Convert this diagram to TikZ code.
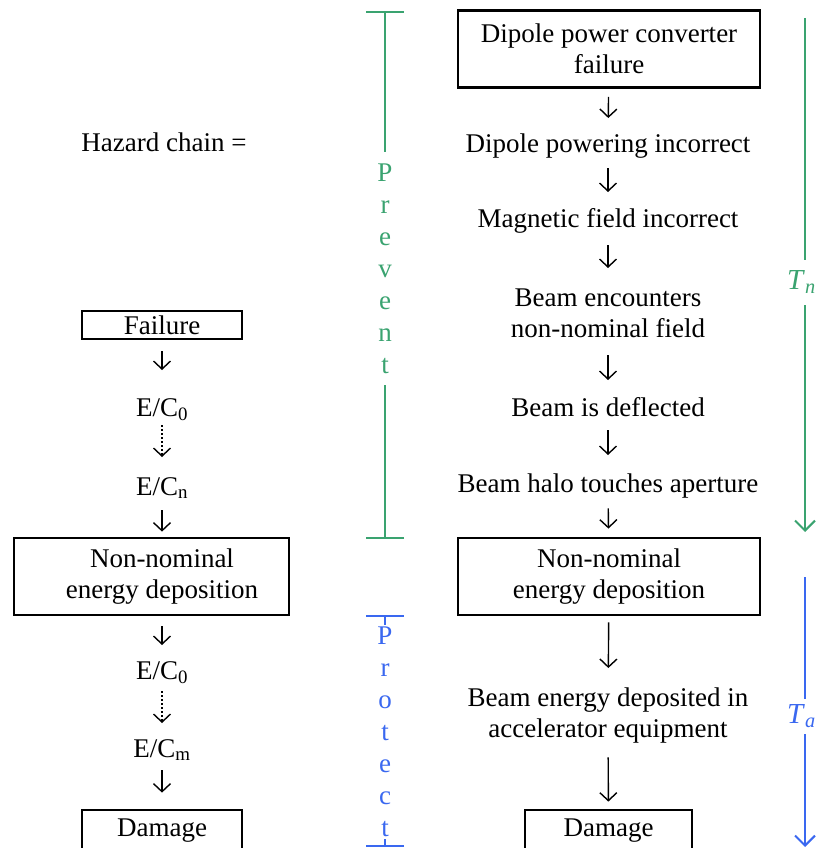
\documentclass[tikz,border=0pt]{standalone}
\usepackage{fontspec}
\setmainfont{Liberation Serif}
\usetikzlibrary{arrows.meta}
\definecolor{prevgreen}{RGB}{58,163,112}
\definecolor{protblue}{RGB}{58,104,240}
\begin{document}
\begin{tikzpicture}[x=1pt,y=-1pt,
  every node/.style={font=\fontsize{27}{31}\selectfont, inner sep=0pt},
  txt/.style={anchor=north, align=center},
  one/.style={txt, text height=19pt, text depth=6pt},
  box/.style={draw, line width=2.8pt, align=center},
  arr/.style={-{Straight Barb[length=8pt,width=17pt]}, line width=1.4pt},
  dotarr/.style={arr, dash pattern=on 1.4pt off 2.6pt},
  gap/.style 2 args={shorten <=#1pt, shorten >=#2pt},
  span/.style={line width=2pt, {Bar[width=38pt]}-{Bar[width=38pt]}},
  timearr/.style={line width=2pt, -{Straight Barb[length=10pt,width=20pt]}},
  vword/.style={fill=white, align=center, font=\fontsize{27}{32}\selectfont, inner xsep=3pt},
  tlabel/.style={fill=white, anchor=west, font=\fontsize{29}{31}\selectfont}
]
\useasboundingbox (0,0) rectangle (815,848);

% ---------- left column: generic hazard chain ----------
\node[one] (hz) at (164,132) {Hazard chain =};
\node[box, minimum width=160pt, minimum height=28pt] (fl) at (162,325) {Failure};
\node[one] (ec0) at (162,397) {E/C\textsubscript{0}};
\node[one] (ecn) at (162,476) {E/C\textsubscript{n}};
\node[draw, line width=2.8pt, minimum width=275pt, minimum height=77pt] (nnLbox) at (151.5,576.5) {};
\node[align=center] (nnL) at (162,577) {Non-nominal\\energy deposition};
\node[one] (ec0b) at (162,660) {E/C\textsubscript{0}};
\node[one] (ecm) at (162,738) {E/C\textsubscript{m}};
\node[box, minimum width=160pt, minimum height=42pt] (dmL) at (162,831) {Damage};

\draw[arr, gap={11}{27}] (fl) -- (ec0);
\draw[dotarr, gap={3}{19}] (ec0) -- (ecn);
\draw[arr, gap={9}{5}] (ecn) -- (ecn |- nnLbox.north);
\draw[arr, gap={10}{15}] (nnL |- nnLbox.south) -- (ec0b);
\draw[dotarr, gap={6}{15}] (ec0b) -- (ecm);
\draw[arr, gap={7}{16}] (ecm) -- (dmL);

% ---------- right column: dipole example ----------
\node[box, minimum width=302pt, minimum height=77pt] (r0) at (609,49) {Dipole power converter\\failure};
\node[one] (r1) at (608,133) {Dipole powering incorrect};
\node[one] (r2) at (608,208) {Magnetic field incorrect};
\node[txt] (r3) at (608,287) {\rule{0pt}{19pt}Beam encounters\\non-nominal field\rule[-6pt]{0pt}{6pt}};
\node[one] (r4) at (608,397) {Beam is deflected};
\node[one] (r5) at (608,473) {Beam halo touches aperture};
\node[box, minimum width=302pt, minimum height=77pt] (r6) at (609,576.5) {Non-nominal\\energy deposition};
\node[txt] (r7) at (608,687) {\rule{0pt}{19pt}Beam energy deposited in\\accelerator equipment\rule[-6pt]{0pt}{6pt}};
\node[box, minimum width=167pt, minimum height=42pt] (r8) at (608.5,831) {Damage};

\draw[arr, gap={8}{15}] (r0) -- (r1);
\draw[arr, gap={10}{16}] (r1) -- (r2);
\draw[arr, gap={12}{19}] (r2) -- (r3);
\draw[arr, gap={12}{17}] (r3) -- (r4);
\draw[arr, gap={8}{18}] (r4) -- (r5);
\draw[arr, gap={10}{8}] (r5) -- (r6);
\draw[arr, gap={6}{19}] (r6) -- (r7);
\draw[arr, gap={14}{7}] (r7) -- (r8);

% ---------- prevent / protect spans ----------
\coordinate (pvA) at (385,11);
\coordinate (pvB) at (385,539);
\coordinate (ptA) at (385,615);
\coordinate (ptB) at (385,847);
\draw[span, prevgreen] (pvA) -- (pvB);
\draw[span, protblue] (ptA) -- (ptB);
\node[vword, text=prevgreen, inner ysep=11.5pt] (pv) at (385,268.5) {P\\r\\e\\v\\e\\n\\t};
\node[vword, text=protblue, inner ysep=2pt] (pt) at (385,732) {P\\r\\o\\t\\e\\c\\t};

% ---------- time spans ----------
\coordinate (tnA) at (805,18);
\coordinate (tnB) at (805,532);
\coordinate (taA) at (805,577);
\coordinate (taB) at (805,847);
\draw[timearr, prevgreen] (tnA) -- (tnB);
\draw[timearr, protblue] (taA) -- (taB);
\node[tlabel, text=prevgreen, minimum height=45pt] (tn) at (787,282) {\textit{T}\textsubscript{\textit{n}}};
\node[tlabel, text=protblue, minimum height=35pt] (ta) at (787,716) {\textit{T}\textsubscript{\textit{a}}};
\end{tikzpicture}
\end{document}
